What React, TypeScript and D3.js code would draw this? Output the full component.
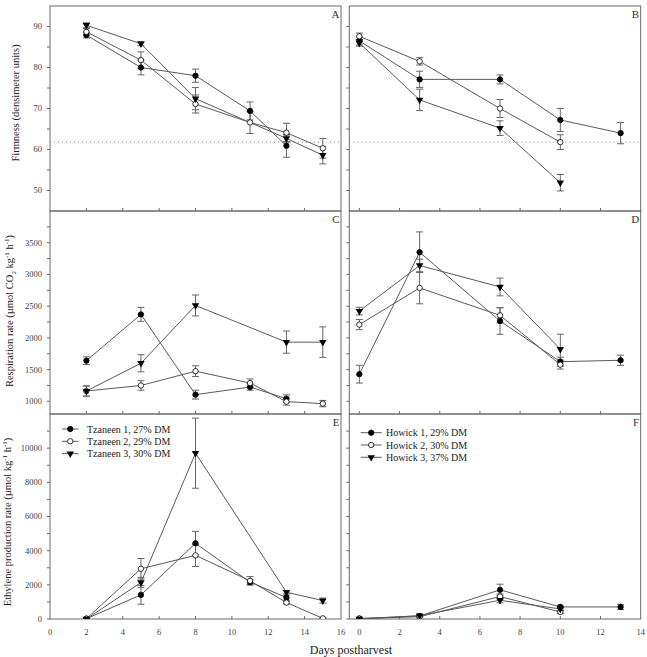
import React, { useEffect, useRef } from 'react';
import * as d3 from 'd3';

// Tzaneen (left column) and Howick (right column) sampling days
const tzDays = [2, 5, 8, 11, 13, 15];
const hoDays = [0, 3, 7, 10, 13];

// firmness (densimeter units)
const tz1Firm = [87.9, 80.0, 78.0, 69.4, 60.9, null];
const tz1FirmErr = [0.7, 1.8, 1.6, 2.2, 2.8, null];
const tz2Firm = [88.7, 81.8, 71.1, 66.6, 64.1, 60.3];
const tz2FirmErr = [0.8, 2.0, 2.2, 2.7, 2.3, 2.4];
const tz3Firm = [90.3, 85.8, 72.4, null, 62.7, 58.6];
const tz3FirmErr = [0.6, 0.5, 2.7, null, 0.8, 2.1];
const ho1Firm = [86.5, 77.1, 77.1, 67.2, 64.0];
const ho1FirmErr = [1.0, 2.0, 1.1, 2.8, 2.6];
const ho2Firm = [87.6, 81.5, 70.0, 61.8, null];
const ho2FirmErr = [0.8, 0.9, 2.2, 1.8, null];
const ho3Firm = [86.0, 72.1, 65.2, 51.9, null];
const ho3FirmErr = [0.8, 2.6, 1.8, 2.0, null];
const firmLimit = 61.8;

// respiration rate (umol CO2 kg-1 h-1)
const tz1Resp = [1641, 2370, 1105, 1225, 1042, null];
const tz1RespErr = [60, 110, 70, 50, 60, null];
const tz2Resp = [1162, 1250, 1475, 1287, 995, 964];
const tz2RespErr = [80, 75, 85, 65, 55, 50];
const tz3Resp = [1162, 1600, 2511, null, 1933, 1933];
const tz3RespErr = [80, 135, 165, null, 175, 240];
const ho1Resp = [1428, 3350, 2266, 1625, 1647];
const ho1RespErr = [140, 320, 210, 70, 80];
const ho2Resp = [2209, 2787, 2355, 1578, null];
const ho2RespErr = [80, 250, 120, 70, null];
const ho3Resp = [2422, 3141, 2803, 1823, null];
const ho3RespErr = [60, 100, 140, 235, null];

// ethylene production rate (umol kg-1 h-1)
const tz1Eth = [20, 1412, 4431, 2157, 1255, null];
const tz1EthErr = [20, 550, 700, 150, 150, null];
const tz2Eth = [20, 2941, 3725, 2235, 961, 39];
const tz2EthErr = [20, 600, 650, 250, 80, 40];
const tz3Eth = [0, 2137, 9706, null, 1569, 1078];
const tz3EthErr = [20, 300, 2050, null, 100, 150];
const ho1Eth = [30, 176, 1706, 706, 706];
const ho1EthErr = [20, 50, 330, 100, 150];
const ho2Eth = [20, 137, 1314, 412, null];
const ho2EthErr = [20, 50, 150, 80, null];
const ho3Eth = [0, 196, 1098, 588, null];
const ho3EthErr = [20, 50, 150, 80, null];

const tzNames = ['Tzaneen 1, 27% DM', 'Tzaneen 2, 29% DM', 'Tzaneen 3, 30% DM'];
const hoNames = ['Howick 1, 29% DM', 'Howick 2, 30% DM', 'Howick 3, 37% DM'];
const kinds = ['filled', 'open', 'triangle'];

// axis ticks
const firmLabels = [50, 60, 70, 80, 90];
const firmTicks = d3.range(50, 91, 5);
const respLabels = [1000, 1500, 2000, 2500, 3000, 3500];
const respTicks = d3.range(1000, 3751, 250);
const ethLabels = [0, 2000, 4000, 6000, 8000, 10000];
const ethTicks = d3.range(0, 11001, 1000);
const tzXTicks = [2, 4, 6, 8, 10, 12, 14];
const tzXLabels = [0, 2, 4, 6, 8, 10, 12, 14, 16];
const hoXTicks = [0, 2, 4, 6, 8, 10, 12];
const hoXLabels = [0, 2, 4, 6, 8, 10, 12, 14];

const W = 647;
const H = 657;
const FONT = "'Liberation Serif', 'Times New Roman', serif";
const LINE = '#5a5a5a';
const ERR = '#666';
const FRAME = '#6a6a6a';

const cols = [
  { x0: 50, x1: 341, domain: [0, 16], ticks: tzXTicks, labels: tzXLabels },
  { x0: 349.3, x1: 640.7, domain: [-0.5, 14], ticks: hoXTicks, labels: hoXLabels },
];
const rows = [
  { y0: 6, y1: 211, domain: [45, 95], ticks: firmTicks, labels: firmLabels },
  { y0: 211, y1: 414, domain: [800, 4000], ticks: respTicks, labels: respLabels },
  { y0: 414, y1: 619, domain: [0, 12000], ticks: ethTicks, labels: ethLabels },
];

const mk = (days, vals, errs, i) => ({ kind: kinds[i], days, vals, errs });

const panels = [
  { row: 0, col: 0, label: 'A', series: [mk(tzDays, tz1Firm, tz1FirmErr, 0), mk(tzDays, tz2Firm, tz2FirmErr, 1), mk(tzDays, tz3Firm, tz3FirmErr, 2)] },
  { row: 0, col: 1, label: 'B', series: [mk(hoDays, ho1Firm, ho1FirmErr, 0), mk(hoDays, ho2Firm, ho2FirmErr, 1), mk(hoDays, ho3Firm, ho3FirmErr, 2)] },
  { row: 1, col: 0, label: 'C', series: [mk(tzDays, tz1Resp, tz1RespErr, 0), mk(tzDays, tz2Resp, tz2RespErr, 1), mk(tzDays, tz3Resp, tz3RespErr, 2)] },
  { row: 1, col: 1, label: 'D', series: [mk(hoDays, ho1Resp, ho1RespErr, 0), mk(hoDays, ho2Resp, ho2RespErr, 1), mk(hoDays, ho3Resp, ho3RespErr, 2)] },
  { row: 2, col: 0, label: 'E', series: [mk(tzDays, tz1Eth, tz1EthErr, 0), mk(tzDays, tz2Eth, tz2EthErr, 1), mk(tzDays, tz3Eth, tz3EthErr, 2)], legend: tzNames },
  { row: 2, col: 1, label: 'F', series: [mk(hoDays, ho1Eth, ho1EthErr, 0), mk(hoDays, ho2Eth, ho2EthErr, 1), mk(hoDays, ho3Eth, ho3EthErr, 2)], legend: hoNames },
];

const triangle = d3.symbol().type(d3.symbolTriangle).size(24);

function drawMarker(g, kind, x, y) {
  if (kind === 'triangle') {
    g.append('path')
      .attr('d', triangle())
      .attr('transform', `translate(${x},${y}) rotate(180)`)
      .attr('fill', '#000');
  } else {
    g.append('circle')
      .attr('cx', x)
      .attr('cy', y)
      .attr('r', 2.7)
      .attr('fill', kind === 'filled' ? '#000' : '#fff')
      .attr('stroke', '#000')
      .attr('stroke-width', 0.8);
  }
}

export default function App() {
  const ref = useRef<SVGSVGElement>(null);

  useEffect(() => {
    const svg = d3.select(ref.current);
    svg.selectAll('*').remove();

    svg.append('rect').attr('width', W).attr('height', H).attr('fill', '#fff');

    panels.forEach(p => {
      const c = cols[p.col];
      const r = rows[p.row];
      const x = d3.scaleLinear().domain(c.domain).range([c.x0, c.x1]);
      const y = d3.scaleLinear().domain(r.domain).range([r.y1, r.y0]);
      const g = svg.append('g');

      const clipId = `clip-${p.label}`;
      g.append('clipPath').attr('id', clipId)
        .append('rect')
        .attr('x', c.x0).attr('y', r.y0)
        .attr('width', c.x1 - c.x0).attr('height', r.y1 - r.y0);

      // frame
      g.append('rect')
        .attr('x', c.x0).attr('y', r.y0)
        .attr('width', c.x1 - c.x0).attr('height', r.y1 - r.y0)
        .attr('fill', 'none')
        .attr('stroke', FRAME)
        .attr('stroke-width', 1);

      // y ticks, outward
      g.selectAll('line.yt').data(r.ticks).enter().append('line')
        .attr('x1', c.x0 - 3).attr('x2', c.x0)
        .attr('y1', d => y(d)).attr('y2', d => y(d))
        .attr('stroke', FRAME);

      // x ticks, pointing up into the panel
      g.selectAll('line.xt').data(c.ticks).enter().append('line')
        .attr('x1', d => x(d)).attr('x2', d => x(d))
        .attr('y1', r.y1 - 3).attr('y2', r.y1)
        .attr('stroke', FRAME);

      if (p.col === 0) {
        g.selectAll('text.yl').data(r.labels).enter().append('text')
          .attr('x', 42)
          .attr('y', d => y(d))
          .attr('dy', '0.35em')
          .attr('text-anchor', 'end')
          .style('font-family', FONT)
          .style('font-size', '8.5px')
          .attr('fill', '#444')
          .text(d => d);
      }

      if (p.row === 2) {
        g.selectAll('text.xl').data(c.labels).enter().append('text')
          .attr('x', d => x(d))
          .attr('y', 635)
          .attr('text-anchor', 'middle')
          .style('font-family', FONT)
          .style('font-size', '8.5px')
          .attr('fill', '#444')
          .text(d => d);
      }

      // panel letter
      g.append('text')
        .attr('x', c.x1 - 1.5)
        .attr('y', r.y0 + 11.5)
        .attr('text-anchor', 'end')
        .style('font-family', FONT)
        .style('font-size', '11px')
        .attr('fill', '#333')
        .text(p.label);

      if (p.row === 0) {
        g.append('line')
          .attr('x1', c.x0).attr('x2', c.x1)
          .attr('y1', y(firmLimit)).attr('y2', y(firmLimit))
          .attr('stroke', '#888')
          .attr('stroke-dasharray', '1,3');
      }

      const plot = g.append('g').attr('clip-path', `url(#${clipId})`);
      const line = d3.line().x(d => x(d[0])).y(d => y(d[1]));

      p.series.forEach(s => {
        const pts = s.days.map((d, i) => [d, s.vals[i], s.errs[i]]).filter(d => d[1] != null);
        plot.append('path')
          .attr('d', line(pts))
          .attr('fill', 'none')
          .attr('stroke', LINE)
          .attr('stroke-width', 1);
      });

      p.series.forEach(s => {
        const pts = s.days.map((d, i) => [d, s.vals[i], s.errs[i]]).filter(d => d[1] != null);
        pts.forEach(d => {
          const px = x(d[0]);
          const lo = y(d[1] - d[2]);
          const hi = y(d[1] + d[2]);
          plot.append('line').attr('x1', px).attr('x2', px).attr('y1', lo).attr('y2', hi)
            .attr('stroke', ERR);
          [lo, hi].forEach(v => {
            plot.append('line').attr('x1', px - 3.5).attr('x2', px + 3.5).attr('y1', v).attr('y2', v)
              .attr('stroke', ERR);
          });
        });
      });

      p.series.forEach(s => {
        s.days.forEach((d, i) => {
          if (s.vals[i] == null) return;
          drawMarker(plot, s.kind, x(d), y(s.vals[i]));
        });
      });

      if (p.legend) {
        const lx0 = p.col === 0 ? 62 : 360.7;
        const lx1 = p.col === 0 ? 78.5 : 381.7;
        const tx = p.col === 0 ? 87 : 386;
        const ly = p.col === 0 ? 429 : 432.7;
        p.legend.forEach((name, i) => {
          const yy = ly + i * 12.3;
          g.append('line').attr('x1', lx0).attr('x2', lx1).attr('y1', yy).attr('y2', yy)
            .attr('stroke', LINE);
          drawMarker(g, kinds[i], (lx0 + lx1) / 2, yy);
          g.append('text')
            .attr('x', tx).attr('y', yy).attr('dy', '0.35em')
            .style('font-family', FONT)
            .style('font-size', '10px')
            .attr('fill', '#222')
            .text(name);
        });
      }
    });

    // axis titles
    const title = (cx, cy) => svg.append('text')
      .attr('transform', `translate(${cx},${cy}) rotate(-90)`)
      .attr('text-anchor', 'middle')
      .style('font-family', FONT)
      .style('font-size', '10.5px')
      .attr('fill', '#222');

    title(19, 103).text('Firmness (densimeter units)');

    const resp = title(13, 311);
    resp.append('tspan').text('Respiration rate (µmol CO');
    resp.append('tspan').attr('dy', 2.5).style('font-size', '7px').text('2');
    resp.append('tspan').attr('dy', -2.5).text(' kg');
    resp.append('tspan').attr('dy', -4).style('font-size', '7px').text('-1');
    resp.append('tspan').attr('dy', 4).text(' h');
    resp.append('tspan').attr('dy', -4).style('font-size', '7px').text('-1');
    resp.append('tspan').attr('dy', 4).text(')');

    const eth = title(11, 522);
    eth.append('tspan').text('Ethylene production rate (µmol kg');
    eth.append('tspan').attr('dy', -4).style('font-size', '7px').text('-1');
    eth.append('tspan').attr('dy', 4).text(' h');
    eth.append('tspan').attr('dy', -4).style('font-size', '7px').text('-1');
    eth.append('tspan').attr('dy', 4).text(')');

    svg.append('text')
      .attr('x', 351)
      .attr('y', 654)
      .attr('text-anchor', 'middle')
      .style('font-family', FONT)
      .style('font-size', '12px')
      .attr('fill', '#222')
      .text('Days postharvest');
  }, []);

  return (
    <svg
      ref={ref}
      width={W}
      height={H}
      style={{ position: 'absolute', left: 0, top: 0 }}
    />
  );
}
